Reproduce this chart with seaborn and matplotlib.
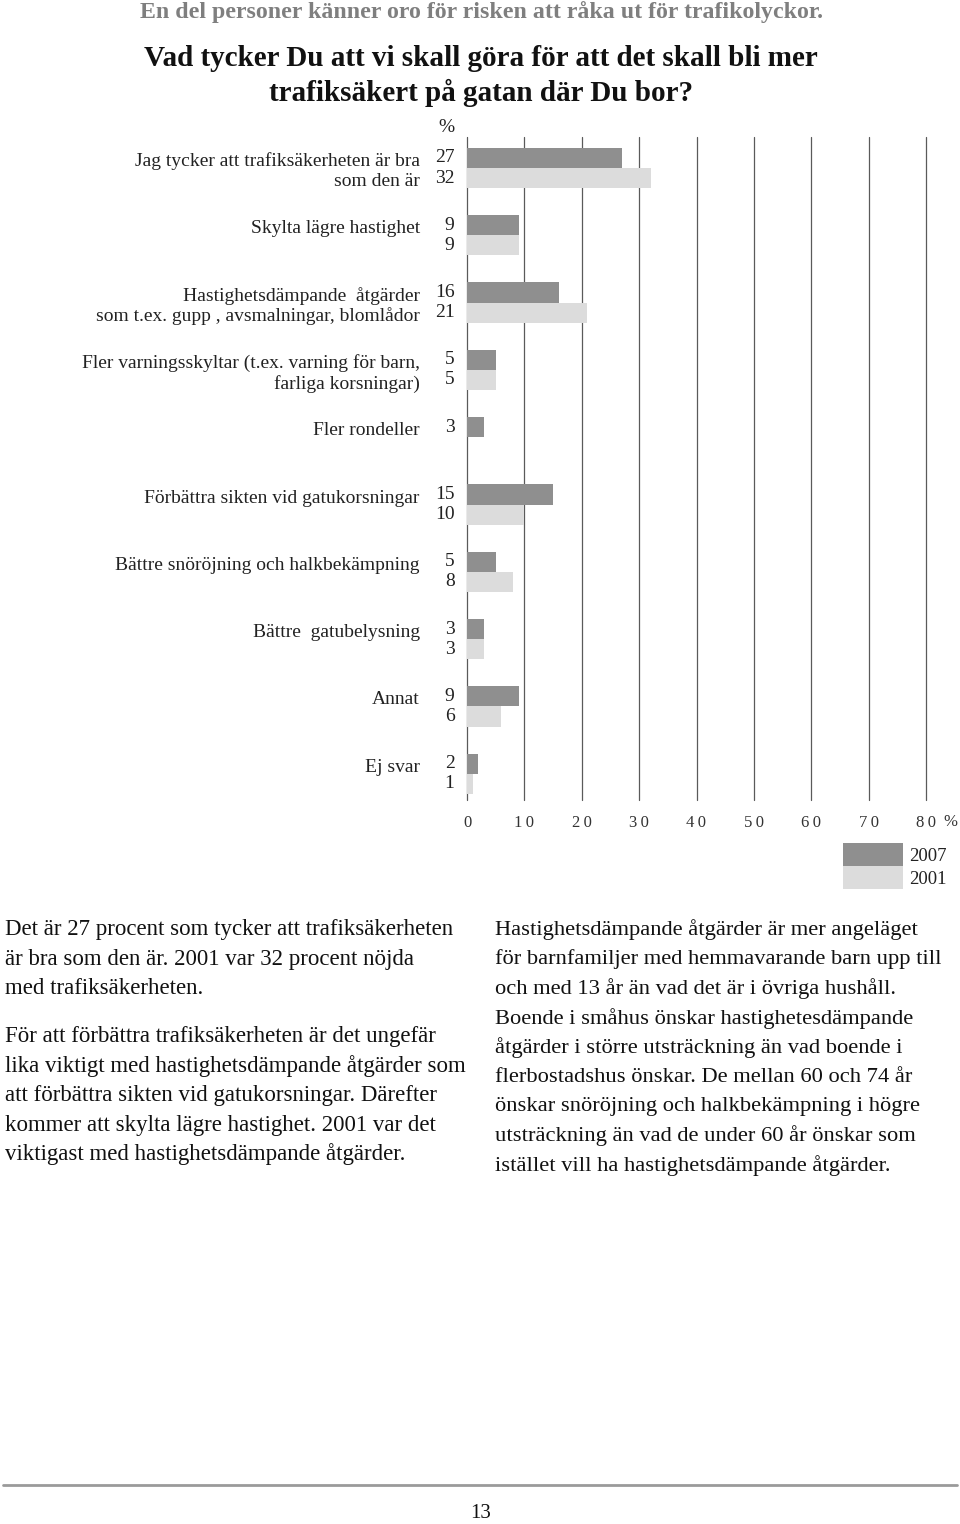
import numpy as np
import pandas as pd
import matplotlib
matplotlib.use("Agg")
import matplotlib.pyplot as plt
import matplotlib.transforms as mtransforms
from matplotlib.lines import Line2D
import seaborn as sns

# ---------------- data ----------------
categories = [
    "Jag tycker att trafiksäkerheten är bra\nsom den är",
    "Skylta lägre hastighet\n ",
    "Hastighetsdämpande  åtgärder\nsom t.ex. gupp , avsmalningar, blomlådor",
    "Fler varningsskyltar (t.ex. varning för barn,\nfarliga korsningar)",
    "Fler rondeller\n ",
    "Förbättra sikten vid gatukorsningar\n ",
    "Bättre snöröjning och halkbekämpning\n ",
    "Bättre  gatubelysning\n ",
    "Annat\n ",
    "Ej svar\n ",
]
years = ["2007", "2001"]
values_2007 = [27, 9, 16, 5, 3, 15, 5, 3, 9, 2]
values_2001 = [32, 9, 21, 5, np.nan, 10, 8, 3, 6, 1]
x_ticks = [0, 10, 20, 30, 40, 50, 60, 70, 80]
x_tick_labels = ["0", "1\u20090", "2\u20090", "3\u20090", "4\u20090", "5\u20090",
                 "6\u20090", "7\u20090", "8\u20090"]

header = "En del personer känner oro för risken att råka ut för trafikolyckor."
title_lines = ["Vad tycker Du att vi skall göra för att det skall bli mer",
               "trafiksäkert på gatan där Du bor?"]
left_paras = [
    ["Det är 27 procent som tycker att trafiksäkerheten",
     "är bra som den är. 2001 var 32 procent nöjda",
     "med trafiksäkerheten."],
    ["För att förbättra trafiksäkerheten är det ungefär",
     "lika viktigt med hastighetsdämpande åtgärder som",
     "att förbättra sikten vid gatukorsningar. Därefter",
     "kommer att skylta lägre hastighet. 2001 var det",
     "viktigast med hastighetsdämpande åtgärder."],
]
right_lines = [
    "Hastighetsdämpande åtgärder är mer angeläget",
    "för barnfamiljer med hemmavarande barn upp till",
    "och med 13 år än vad det är i övriga hushåll.",
    "Boende i småhus önskar hastighetesdämpande",
    "åtgärder i större utsträckning än vad boende i",
    "flerbostadshus önskar. De mellan 60 och 74 år",
    "önskar snöröjning och halkbekämpning i högre",
    "utsträckning än vad de under 60 år önskar som",
    "istället vill ha hastighetsdämpande åtgärder.",
]
page_number = "13"

# ---------------- frame ----------------
rows = []
for c, a, b in zip(categories, values_2007, values_2001):
    rows.append({"cat": c, "year": "2007", "val": a})
    rows.append({"cat": c, "year": "2001", "val": b})
df = pd.DataFrame(rows).dropna()

DARK = "#8f8f8f"
LIGHT = "#dcdcdc"
SERIF = ["Liberation Serif", "DejaVu Serif"]

sns.set_theme(style="white")
plt.rcParams["font.family"] = SERIF

W, H = 960, 1524
fig = plt.figure(figsize=(W / 100, H / 100), dpi=100)
fig.patch.set_facecolor("white")

ax_left, ax_right, ax_top, ax_bot = 467, 926, 137, 800
ax = fig.add_axes([ax_left / W, 1 - ax_bot / H, (ax_right - ax_left) / W, (ax_bot - ax_top) / H])

sns.barplot(data=df, y="cat", x="val", hue="year", order=categories,
            hue_order=years, palette=[DARK, LIGHT], width=0.6, orient="h",
            errorbar=None, linewidth=0, saturation=1, ax=ax)

ax.set_xlim(0, 80)
ax.set_ylim(len(categories) - 1 + 0.39, -0.46)
ax.set_xticks(x_ticks)
ax.set_xticklabels(x_tick_labels)
ax.set_xlabel("")
ax.set_ylabel("")
for s in ax.spines.values():
    s.set_visible(False)
ax.set_axisbelow(True)
ax.grid(axis="x", color="#5a5a5a", linewidth=0.9)
for gl in ax.get_xgridlines():
    gl.set_clip_on(False)
ax.grid(axis="y", visible=False)
ax.axvline(0, color="#222222", linewidth=1.2, zorder=0.5)
ax.tick_params(axis="y", length=0, pad=34, labelsize=14, labelcolor="#222222")
ax.tick_params(axis="x", length=0, pad=11, labelsize=12, labelcolor="#333333")
for lab in ax.get_yticklabels():
    lab.set_horizontalalignment("right")
    lab.set_multialignment("right")
    lab.set_linespacing(1.2)

# value labels to the left of axis
tr = mtransforms.offset_copy(ax.get_yaxis_transform(), fig=fig, x=-9, y=0, units="points")
for cont in ax.containers:
    for p in cont.patches:
        w = p.get_width()
        if np.isnan(w):
            continue
        ax.text(0, p.get_y() + p.get_height() / 2, f"{int(round(w))}", transform=tr,
                ha="right", va="center", fontsize=14, color="#222222")
tr2 = mtransforms.offset_copy(ax.transAxes, fig=fig, x=-9, y=1, units="points")
ax.text(0, 1, "%", transform=tr2, ha="right", va="bottom", fontsize=14, color="#222222")

fig.text(950 / W, 1 - 822 / H, "%", ha="center", va="center", fontsize=12, color="#333333")

# legend
handles, labels = ax.get_legend_handles_labels()
ax.legend(handles, labels, loc="upper left", bbox_to_anchor=(843 / W, 1 - 843 / H),
          bbox_transform=fig.transFigure, frameon=False, handlelength=3.2,
          handleheight=1.5, labelspacing=0.0, handletextpad=0.3, borderpad=0,
          borderaxespad=0, fontsize=13.5, labelcolor="#222222")

# header & title
fig.text(481 / W, 1 - 12 / H, header, ha="center", va="center", fontsize=17.2,
         fontweight="bold", color="#7f7f7f")
for i, t in enumerate(title_lines):
    fig.text(481 / W, 1 - (58 + 35 * i) / H, t, ha="center", va="center",
             fontsize=21, fontweight="bold", color="#111111")

# body text
LS = 29.4
y = 930
for k, para in enumerate(left_paras):
    for line in para:
        fig.text(5 / W, 1 - y / H, line, ha="left", va="center", fontsize=16.5, color="#111111")
        y += LS
    y += 48 - LS
for i, line in enumerate(right_lines):
    fig.text(495 / W, 1 - (930 + LS * i) / H, line, ha="left", va="center",
             fontsize=16.2, color="#111111")

# footer
fig.add_artist(Line2D([3 / W, 957 / W], [1 - 1485 / H, 1 - 1485 / H],
                      transform=fig.transFigure, color="#9a9a9a", linewidth=2))
fig.text(481 / W, 1 - 1513 / H, page_number, ha="center", va="center", fontsize=15,
         color="#111111")

fig.savefig("out.png", dpi=100, facecolor="white")
